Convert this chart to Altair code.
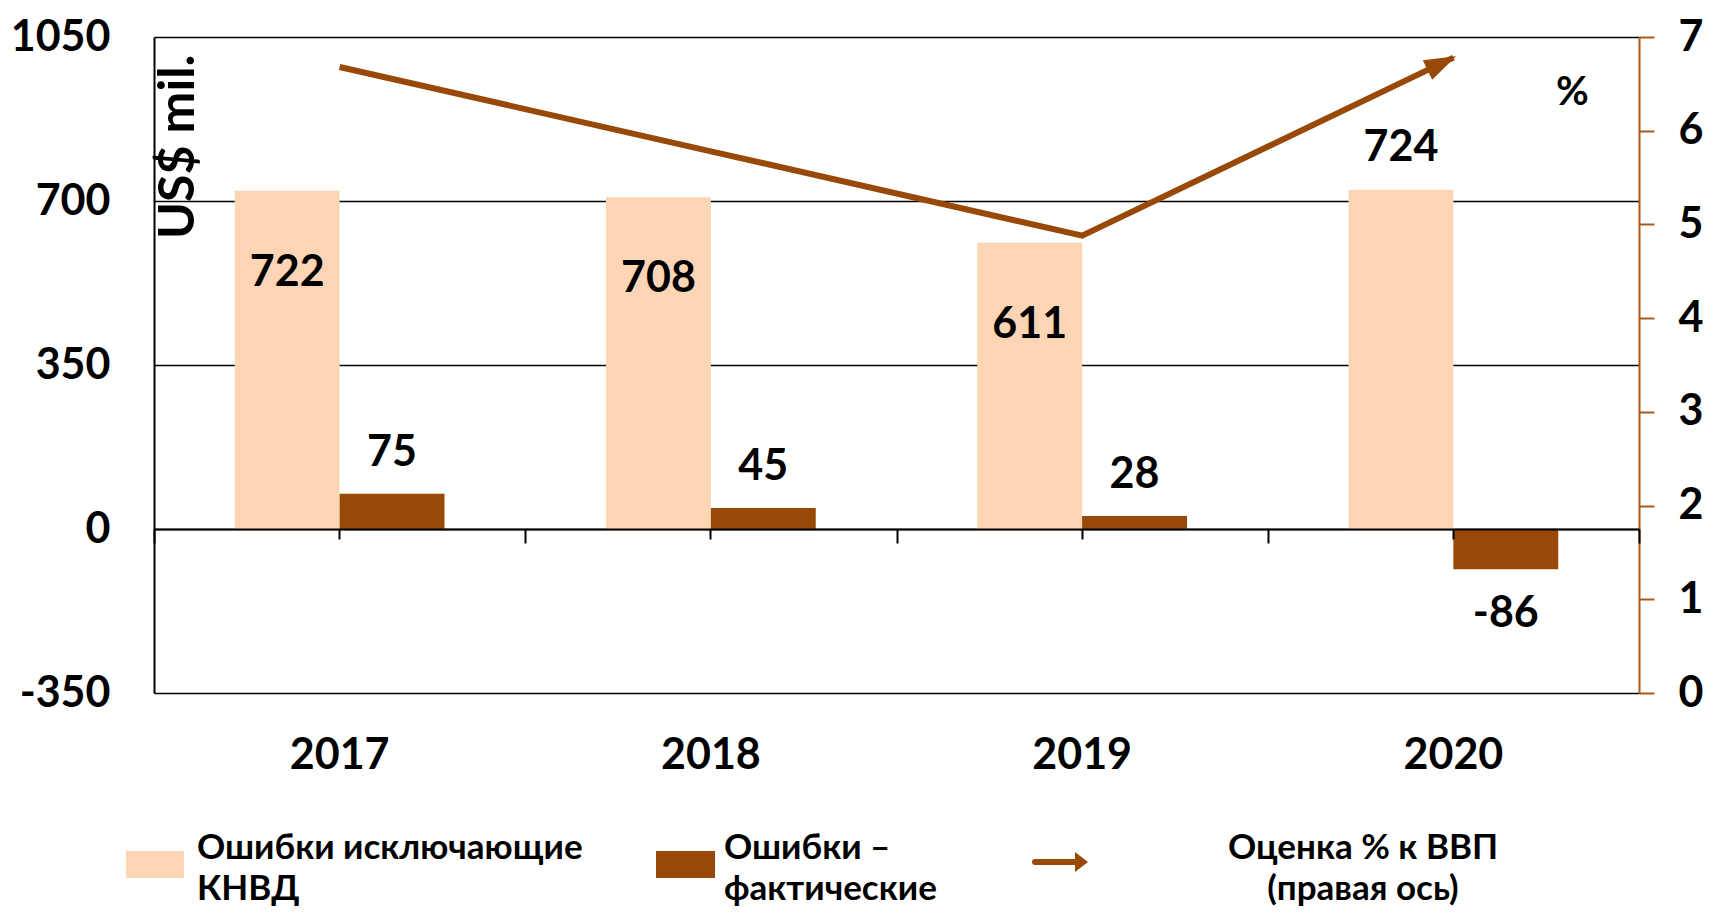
import math
import altair as alt
import pandas as pd

# ---------------- data ----------------
years = ["2017", "2018", "2019", "2020"]
errors_excl = [722, 708, 611, 724]          # Ошибки исключающие КНВД
errors_actual = [75, 45, 28, -86]           # Ошибки – фактические
pct_gdp = [6.68, 5.78, 4.88, 6.78]          # Оценка % к ВВП (правая ось)
series_names = ["Ошибки исключающие КНВД", "Ошибки – фактические"]
left_ticks = [-350, 0, 350, 700, 1050]
right_ticks = [0, 1, 2, 3, 4, 5, 6, 7]
legend_lines = [
    ["Ошибки исключающие", "КНВД"],
    ["Ошибки –", "фактические"],
    ["Оценка % к ВВП", "(правая ось)"],
]

bars_df = pd.DataFrame({
    "year": years * 2,
    "series": [series_names[0]] * 4 + [series_names[1]] * 4,
    "value": errors_excl + errors_actual,
})
bars_df["label"] = bars_df["value"].astype(str)
line_df = pd.DataFrame({"year": years, "pct": pct_gdp})
one = pd.DataFrame({"k": [0]})

# ---------------- style ----------------
W, H = 1485, 656
FONT = "Lato, 'Open Sans', sans-serif"
LIGHT = "#FCD5B4"
DARK = "#984807"
AXIS_BROWN = "#A9581C"
FS = 43

x_band = alt.Scale(domain=years, paddingInner=0, paddingOuter=0)
y_left = alt.Scale(domain=[-350, 1050], nice=False, zero=False)
y_right = alt.Scale(domain=[0, 7], nice=False, zero=False)
col_scale = alt.Scale(domain=series_names, range=[LIGHT, DARK])
xoff_scale = alt.Scale(domain=series_names, paddingInner=0, paddingOuter=0.77)

zero_off = -(H - H * 1050 / 1400)

# ---------------- bars & labels (US$ mil.) ----------------
base = alt.Chart(bars_df)

bars = base.mark_bar().encode(
    x=alt.X("year:N", scale=x_band, sort=years, axis=alt.Axis(
        orient="bottom", domain=False, ticks=False, grid=False, title=None,
        labelAngle=0, labelFont=FONT, labelFontSize=FS, labelFontWeight="bold",
        labelColor="black", labelPadding=41)),
    xOffset=alt.XOffset("series:N", scale=xoff_scale, sort=series_names),
    y=alt.Y("value:Q", scale=y_left, axis=alt.Axis(
        orient="left", values=left_ticks, grid=True, gridColor="black",
        gridWidth=1.6, gridOpacity=1,
        domain=True, domainColor="black", domainWidth=2, ticks=False,
        labelFont=FONT, labelFontSize=FS, labelFontWeight="bold", labelColor="black",
        labelPadding=44, labelFlush=False, labelExpr="toString(datum.value)",
        title="US$ mil.", titleFont=FONT, titleFontSize=50, titleFontWeight="bold",
        titleColor="black", titleAngle=270, titleAlign="right",
        titleBaseline="alphabetic", titleX=39, titleY=17)),
    color=alt.Color("series:N", scale=col_scale, legend=None),
)

def lbl(flt, dy):
    return base.transform_filter(flt).mark_text(
        font=FONT, fontSize=FS, fontWeight="bold", color="black",
        align="center", baseline="middle", dy=dy,
    ).encode(
        x=alt.X("year:N", scale=x_band, sort=years, axis=None),
        xOffset=alt.XOffset("series:N", scale=xoff_scale, sort=series_names),
        y=alt.Y("value:Q", scale=y_left, axis=None),
        text="label:N",
    )

s0, s1 = series_names
light_in = lbl(f"datum.series == '{s0}' && datum.year != '2020'", 82)
light_top = lbl(f"datum.series == '{s0}' && datum.year == '2020'", -42)
dark_pos = lbl(f"datum.series == '{s1}' && datum.value >= 0", -41)
dark_neg = lbl(f"datum.series == '{s1}' && datum.value < 0", 45)

# ---------------- line (%) ----------------
line = alt.Chart(line_df).mark_line(
    color=DARK, strokeWidth=6, strokeCap="butt", strokeJoin="miter"
).encode(
    x=alt.X("year:N", scale=x_band, sort=years, axis=alt.Axis(
        orient="bottom", offset=zero_off, domain=True, domainColor="black",
        domainWidth=2, ticks=True, tickColor="black", tickWidth=2, tickSize=14,
        tickBand="extent", labels=False, title=None, grid=False, zindex=1)),
    y=alt.Y("pct:Q", scale=y_right, axis=alt.Axis(
        orient="right", values=right_ticks, grid=False,
        domain=True, domainColor=AXIS_BROWN, domainWidth=2,
        ticks=True, tickColor=AXIS_BROWN, tickWidth=2, tickSize=15,
        labelFont=FONT, labelFontSize=FS, labelFontWeight="bold", labelColor="black",
        labelPadding=24, labelFlush=False,
        title="%", titleFont=FONT, titleFontSize=40, titleFontWeight="bold",
        titleColor="black", titleAngle=0, titleAlign="center", titleBaseline="middle",
        titleX=-67, titleY=55)),
)

# arrow head direction from the last segment of the series
dx_px = W / len(years)
dy_px = (pct_gdp[-1] - pct_gdp[-2]) / 7 * H
arrow_angle = (360 - math.degrees(math.atan2(dy_px, dx_px))) % 360
ARROW = "M 0.3 0 L -2.8 -1.05 L -2.8 1.05 Z"

arrow = alt.Chart(line_df).transform_filter("datum.year == '2020'").mark_point(
    shape=ARROW, size=420, angle=arrow_angle, filled=True, fill=DARK,
    strokeWidth=0, opacity=1,
).encode(
    x=alt.X("year:N", scale=x_band, sort=years, axis=alt.Axis(
        orient="bottom", offset=zero_off, domain=False, ticks=True,
        tickColor="black", tickWidth=2, tickSize=10, tickBand="center",
        labels=False, title=None, grid=False, zindex=1)),
    y=alt.Y("pct:Q", scale=y_right, axis=None),
)

# ---------------- legend ----------------
LEG_FS = 35
leg_text = dict(font=FONT, fontSize=LEG_FS, fontWeight="bold", color="black",
                baseline="alphabetic")
lg = alt.Chart(one)


def two_lines(lines, x, align):
    return [
        lg.mark_text(align=align, **leg_text).encode(
            x=alt.value(x), y=alt.value(822 + 41 * i), text=alt.value(t))
        for i, t in enumerate(lines)
    ]


leg = [
    lg.mark_rect(color=LIGHT).encode(
        x=alt.value(-28), x2=alt.value(30), y=alt.value(814), y2=alt.value(841)),
    *two_lines(legend_lines[0], 43, "left"),
    lg.mark_rect(color=DARK).encode(
        x=alt.value(502), x2=alt.value(561), y=alt.value(814), y2=alt.value(841)),
    *two_lines(legend_lines[1], 570, "left"),
    lg.mark_rule(color=DARK, strokeWidth=6, strokeCap="round").encode(
        x=alt.value(881), x2=alt.value(922), y=alt.value(825)),
    lg.mark_point(shape="M 0 0 L -1.3 -1 L -1.3 1 Z", size=400, filled=True,
                  fill=DARK, strokeWidth=0, opacity=1).encode(
        x=alt.value(934), y=alt.value(825)),
    *two_lines(legend_lines[2], 1209, "center"),
]

chart = alt.layer(
    bars, light_in, light_top, dark_pos, dark_neg, line, arrow, *leg
).resolve_scale(
    y="independent"
).resolve_axis(
    x="independent", y="independent"
).properties(
    width=W, height=H,
    padding={"left": 2, "top": 8, "right": 0, "bottom": 0},
).configure(
    font=FONT, view=alt.ViewConfig(stroke=None)
)

chart.save("out.html", embed_options={"renderer": "svg", "actions": False})
